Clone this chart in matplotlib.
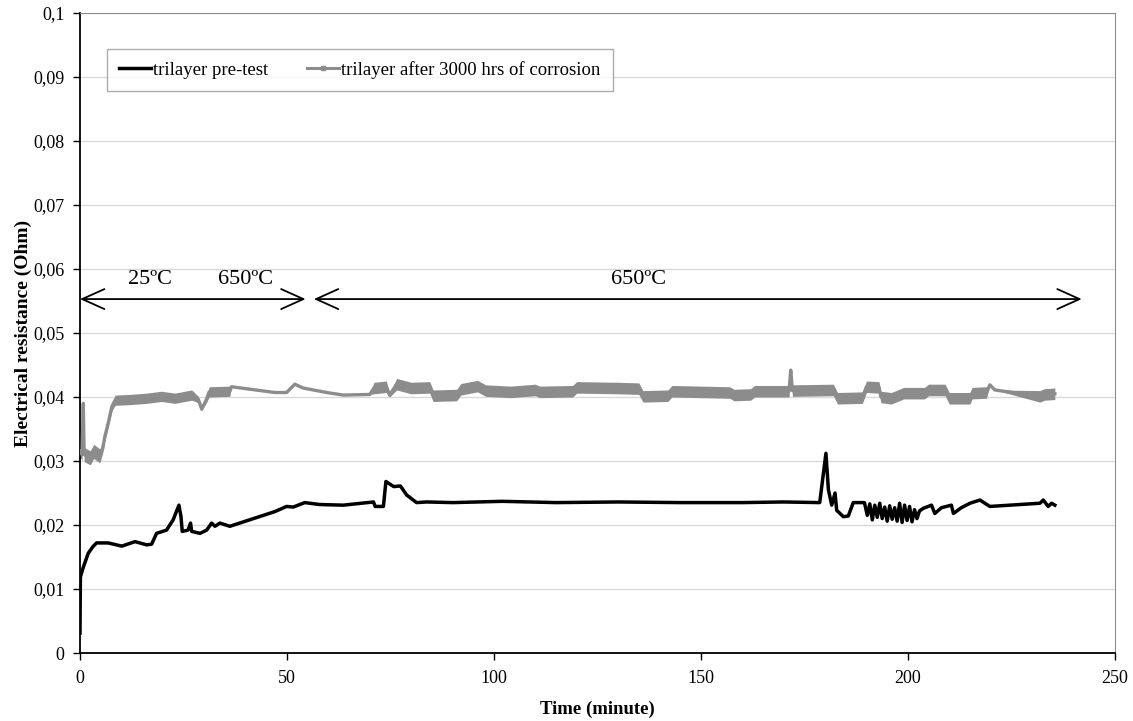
import matplotlib
matplotlib.use("Agg")
import matplotlib.pyplot as plt
from matplotlib.lines import Line2D
import numpy as np

plt.rcParams['font.family'] = ['Liberation Serif', 'DejaVu Serif']

# trilayer pre-test (black)
pre_t = [0.0, 0.1, 0.8, 2.0, 3.1, 4.0, 6.8, 10.1, 13.3, 16.1,
         17.3, 18.5, 20.9, 22.5, 23.9, 24.4, 24.7, 26.1, 26.7, 27.0,
         29.0, 30.6, 31.8, 32.6, 33.8, 36.2, 47.1, 49.9, 51.5, 54.3,
         57.9, 63.6, 70.9, 71.3, 73.3, 73.9, 75.8, 77.4, 78.9, 81.3,
         83.7, 90.1, 102, 115, 130, 145, 160, 170, 178.7, 180.2,
         180.8, 181.6, 182.4, 182.8, 184.4, 185.6, 186.8, 189.5, 190.2, 190.8,
         191.4, 192.0, 192.6, 193.2, 193.8, 194.4, 195.0, 195.6, 196.2, 196.8,
         197.4, 198.0, 198.6, 199.2, 199.8, 200.4, 201.0, 201.6, 202.2, 202.8,
         203.7, 205.7, 206.5, 208.1, 210.5, 211.0, 212.9, 215.0, 217.4, 219.8,
         231.9, 232.7, 233.9, 234.7, 235.5]
pre_v = [0.0031, 0.0119, 0.0134, 0.0156, 0.0166, 0.0172, 0.0172, 0.0167, 0.0174, 0.0169,
         0.0170, 0.0187, 0.0192, 0.0208, 0.0231, 0.0213, 0.0190, 0.0192, 0.0203, 0.0190,
         0.0187, 0.0192, 0.0203, 0.0198, 0.0203, 0.0198, 0.0221, 0.0229, 0.0228, 0.0235,
         0.0232, 0.0231, 0.0236, 0.0229, 0.0229, 0.0268, 0.0260, 0.0261, 0.0247, 0.0235,
         0.0236, 0.0235, 0.0237, 0.0235, 0.0236, 0.0235, 0.0235, 0.0236, 0.0235, 0.0312,
         0.0255, 0.0231, 0.0250, 0.0223, 0.0213, 0.0214, 0.0235, 0.0235, 0.0215, 0.0233,
         0.0208, 0.0231, 0.0212, 0.0234, 0.0210, 0.0228, 0.0206, 0.0230, 0.0209, 0.0227,
         0.0206, 0.0234, 0.0204, 0.0231, 0.0207, 0.0229, 0.0205, 0.0224, 0.0210, 0.0222,
         0.0226, 0.0231, 0.0218, 0.0227, 0.0231, 0.0218, 0.0227, 0.0234, 0.0239, 0.0229,
         0.0234, 0.0239, 0.0229, 0.0234, 0.0231]

# trilayer after 3000 hrs of corrosion (grey): centre line and half-width of the noisy band
post_t = [0.0, 0.5, 0.8, 1.0, 2.5, 3.3, 4.8, 5.5, 6.0, 6.8, 7.7, 8.5, 12, 16, 19.7, 22.9,
          27.0, 28.6, 29.4, 30.6, 31.2, 36.2, 36.6, 47.1, 49.9, 51.9, 53.9, 59.6, 63.6,
          70.0, 71.0, 74.0, 74.8, 76.5, 80, 84.5, 85.3, 91, 92, 96, 98, 104, 110, 111,
          119, 120, 130, 135, 136, 142, 143, 150, 157, 158, 162, 163, 171.3, 171.7, 172.1,
          182, 183, 189, 190, 193, 193.5, 196, 199, 204, 205, 209, 210, 215, 215.5, 219,
          219.8, 221, 231.9, 233, 235.5]
post_v = [0.0315, 0.0310, 0.0390, 0.0310, 0.0305, 0.0315, 0.0308, 0.0320, 0.0338, 0.0359,
          0.0385, 0.0395, 0.0396, 0.0398, 0.0401, 0.0398, 0.0403, 0.0396, 0.0381, 0.0397,
          0.0408, 0.0409, 0.0416, 0.0407, 0.0407, 0.0420, 0.0414, 0.0407, 0.0403, 0.0404,
          0.0414, 0.0416, 0.0403, 0.0420, 0.0414, 0.0415, 0.0402, 0.0403, 0.0412, 0.0417,
          0.0410, 0.0408, 0.0411, 0.0408, 0.0409, 0.0415, 0.0414, 0.0413, 0.0401, 0.0402,
          0.0409, 0.0408, 0.0407, 0.0403, 0.0404, 0.0409, 0.0409, 0.0442, 0.0410, 0.0411,
          0.0398, 0.0399, 0.0416, 0.0415, 0.0400, 0.0398, 0.0406, 0.0406, 0.0411, 0.0411,
          0.0398, 0.0398, 0.0406, 0.0407, 0.0419, 0.0411, 0.0401, 0.0404, 0.0405]
post_hw = [0.0009, 0.0009, 0.0, 0.0011, 0.0011, 0.0011, 0.0011, 0.0007, 0.0007, 0.0007,
           0.0007, 0.0008, 0.0008, 0.0008, 0.0008, 0.0008, 0.0008, 0.0005, 0.0002, 0.0005,
           0.0008, 0.0008, 0.0, 0.0, 0.0, 0.0, 0.0, 0.0, 0.0, 0.0,
           0.0009, 0.0009, 0.0003, 0.0009, 0.0009, 0.0009, 0.0009, 0.0009, 0.0009, 0.0009,
           0.0009, 0.0009, 0.0009, 0.0009, 0.0009, 0.0009, 0.0009, 0.0009, 0.0009, 0.0009,
           0.0009, 0.0009, 0.0009, 0.0009, 0.0009, 0.0009, 0.0009, 0.0, 0.0009, 0.0009,
           0.0009, 0.0009, 0.0009, 0.0009, 0.0009, 0.0009, 0.0009, 0.0009, 0.0009, 0.0009,
           0.0009, 0.0009, 0.0009, 0.0009, 0.0, 0.0, 0.0009, 0.0009, 0.0009]

yticks = [0, 0.01, 0.02, 0.03, 0.04, 0.05, 0.06, 0.07, 0.08, 0.09, 0.1]
ytick_labels = ['0', '0,01', '0,02', '0,03', '0,04', '0,05', '0,06', '0,07', '0,08', '0,09', '0,1']
xticks = [0, 50, 100, 150, 200, 250]

grey = '#8c8c8c'

fig = plt.figure(figsize=(11.33, 7.21), dpi=100)
ax = fig.add_axes([0.0706, 0.0943, 0.9134, 0.8877])

for y in yticks[1:]:
    ax.axhline(y, color='#d9d9d9', lw=1, zorder=0)

post_t = np.array(post_t)
post_v = np.array(post_v)
post_hw = np.array(post_hw)
ax.fill_between(post_t, post_v - post_hw, post_v + post_hw, color=grey, lw=0, zorder=2)
ax.plot(post_t, post_v, color=grey, lw=2.4, zorder=3)
ax.plot(pre_t, pre_v, color='black', lw=2.5, zorder=4)

# temperature arrows
arr = dict(arrowstyle='<->,head_length=1.0,head_width=0.45', color='black', lw=1.3,
           mutation_scale=16, shrinkA=0, shrinkB=0)
ax.annotate('', xy=(0, 0.0553), xytext=(54.5, 0.0553), arrowprops=arr, zorder=5)
ax.annotate('', xy=(56.5, 0.0553), xytext=(242, 0.0553), arrowprops=arr, zorder=5)
ax.text(17, 0.0583, '25ºC', fontsize=16, ha='center', va='center')
ax.text(40, 0.0583, '650ºC', fontsize=16, ha='center', va='center')
ax.text(135, 0.0583, '650ºC', fontsize=16, ha='center', va='center')

ax.set_xlim(0, 250)
ax.set_ylim(0, 0.1)
ax.set_xticks(xticks)
ax.set_xticklabels([str(x) for x in xticks])
ax.set_yticks(yticks)
ax.set_yticklabels(ytick_labels)
ax.tick_params(direction='out', labelsize=13, length=5, width=1)
ax.tick_params(axis='x', pad=7)
ax.tick_params(axis='y', pad=6)

ax.spines['left'].set_color('black')
ax.spines['bottom'].set_color('black')
ax.spines['left'].set_linewidth(1.3)
ax.spines['bottom'].set_linewidth(1.3)
ax.spines['top'].set_color(grey)
ax.spines['right'].set_color(grey)

ax.set_xlabel('Time (minute)', fontsize=13.5, fontweight='bold', labelpad=10)
ax.set_ylabel('Electrical resistance (Ohm)', fontsize=14, fontweight='bold', labelpad=1)

handles = [Line2D([], [], color='black', lw=2.5),
           Line2D([], [], color=grey, lw=2.2, marker='s', markersize=3)]
leg = ax.legend(handles, ['trilayer pre-test', 'trilayer after 3000 hrs of corrosion'],
                loc='upper left', bbox_to_anchor=(0.026, 0.944), ncol=2, fontsize=13.5,
                frameon=True, fancybox=False, edgecolor='#999999', borderaxespad=0,
                handlelength=1.7, handletextpad=0.1, columnspacing=2.1,
                borderpad=0.65)
leg.get_frame().set_linewidth(1)

fig.savefig('out.png', dpi=100)
